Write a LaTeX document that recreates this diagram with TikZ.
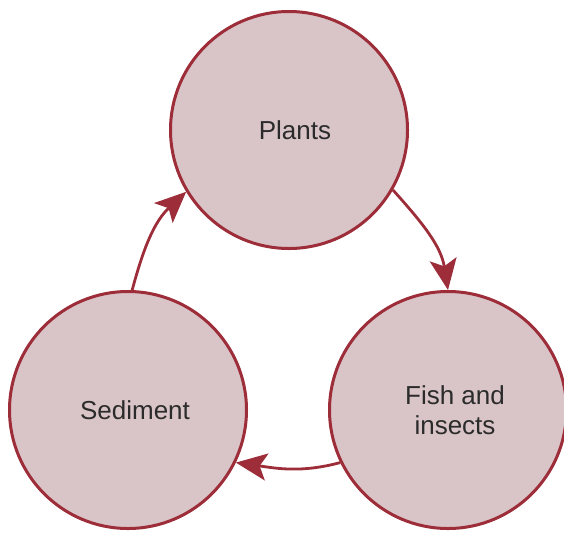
\documentclass[tikz,border=0pt]{standalone}
\usepackage{fontspec}
\setmainfont{Liberation Sans}
\usetikzlibrary{arrows.meta}
\definecolor{ringred}{HTML}{9C2D39}
\definecolor{ringfill}{HTML}{D9C4C7}
\definecolor{txtgray}{HTML}{2B2B2B}
\begin{document}
\begin{tikzpicture}[x=1pt,y=1pt,
  stage/.style={circle, draw=ringred, line width=3pt, fill=ringfill,
    minimum size=237pt, inner sep=0pt},
  stagetext/.style={text=txtgray, align=center,
    font=\fontsize{26}{30}\selectfont},
  flow/.style={draw=ringred, line width=2.8pt,
    -{Stealth[length=31pt, width=27pt, inset=7pt]}}]
\useasboundingbox (0,0) rectangle (564,-536);
\node[stage] (plants) at (289,-130) {};
\node[stage] (fish) at (448,-410) {};
\node[stage] (sed) at (128,-410) {};
\node[stagetext] (tp) at (295,-130) {Plants};
\node[stagetext] (tf) at (455,-410) {Fish and\\insects};
\node[stagetext] (ts) at (135,-410) {Sediment};
\draw[flow] (plants.-30) to[out=-48, in=99] (fish.90);
\draw[flow] (fish.206) to[out=195, in=-8] (sed.-26);
\draw[flow] (sed.88) to[out=75, in=223] (plants.211);
\end{tikzpicture}
\end{document}
